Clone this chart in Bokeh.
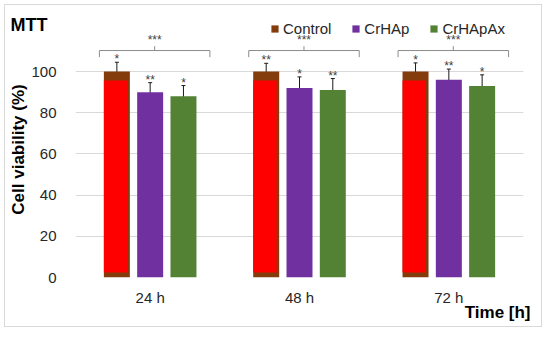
from bokeh.plotting import figure
from bokeh.models import (FactorRange, Range1d, ColumnDataSource, Whisker, Legend,
                          LegendItem, FixedTicker, TeeHead)
from bokeh.transform import dodge
from bokeh.core.properties import value
from bokeh.embed import file_html
from bokeh.resources import INLINE

# ---------------- data ----------------
times = ["24 h", "48 h", "72 h"]
groups = ["Control", "CrHAp", "CrHApAx"]
control = [100, 100, 100]
crhap = [90, 92, 96]
crhapax = [88, 91, 93]
control_err = [4.5, 4.0, 4.2]
crhap_err = [4.6, 5.4, 5.2]
crhapax_err = [5.2, 5.6, 5.4]
control_sig = ["*", "**", "*"]
crhap_sig = ["**", "*", "**"]
crhapax_sig = ["*", "**", "*"]
group_sig = ["***", "***", "***"]
y_ticks = [0, 20, 40, 60, 80, 100]
chart_title = "MTT"
x_title = "Time [h]"
y_title = "Cell viability (%)"

# ---------------- style ----------------
FONT = "Liberation Sans"
C_CTRL = "#843C0C"
C_RED = "#FF0000"
C_HAP = "#7030A0"
C_AX = "#548235"
TXT = "#262626"
BAR_W = 0.174
OFF = 0.223
BRACKET_Y = 110.2
BRACKET_END = 3.2
BRACKET_MID = 2.1
Y_MAX = 124.3

src = ColumnDataSource(dict(
    t=times,
    control=control, crhap=crhap, crhapax=crhapax,
    red_top=[v * 0.956 for v in control],
    red_bot=[v * 0.024 for v in control],
    c_hi=[v + e for v, e in zip(control, control_err)],
    c_lo=[v - e for v, e in zip(control, control_err)],
    h_hi=[v + e for v, e in zip(crhap, crhap_err)],
    h_lo=[v - e for v, e in zip(crhap, crhap_err)],
    a_hi=[v + e for v, e in zip(crhapax, crhapax_err)],
    a_lo=[v - e for v, e in zip(crhapax, crhapax_err)],
    c_sig=control_sig, h_sig=crhap_sig, a_sig=crhapax_sig, g_sig=group_sig,
    by=[BRACKET_Y] * len(times),
    by_end=[BRACKET_Y - BRACKET_END] * len(times),
    by_mid=[BRACKET_Y + BRACKET_MID] * len(times),
))

p = figure(x_range=FactorRange(factors=times), y_range=Range1d(0, Y_MAX),
           width=538, height=323, output_backend="svg", toolbar_location=None,
           min_border_left=70, min_border_right=20, min_border_top=16,
           min_border_bottom=51)
p.styles = {"border": "1px solid #d9d9d9", "margin-left": "4px", "margin-top": "4px"}
p.outline_line_color = None
p.background_fill_color = "white"
p.border_fill_color = "white"

xr = p.x_range
r_c = p.vbar(x=dodge("t", -OFF, range=xr), top="control", width=BAR_W, source=src,
             fill_color=C_CTRL, line_color=None)
p.vbar(x=dodge("t", -OFF - 0.0085, range=xr), top="red_top", bottom="red_bot",
       width=BAR_W - 0.017, source=src, fill_color=C_RED, line_color=None)
r_h = p.vbar(x=dodge("t", 0, range=xr), top="crhap", width=BAR_W, source=src,
             fill_color=C_HAP, line_color=None)
r_a = p.vbar(x=dodge("t", OFF, range=xr), top="crhapax", width=BAR_W, source=src,
             fill_color=C_AX, line_color=None)

for off, hi, lo, sig in [(-OFF, "c_hi", "c_lo", "c_sig"), (0, "h_hi", "h_lo", "h_sig"),
                         (OFF, "a_hi", "a_lo", "a_sig")]:
    w = Whisker(base=dodge("t", off, range=xr), upper=hi, lower=lo, source=src,
                line_color="#1a1a1a", line_width=1,
                upper_head=TeeHead(size=4, line_color="#1a1a1a", line_width=1),
                lower_head=TeeHead(size=4, line_color="#1a1a1a", line_width=1))
    p.add_layout(w)
    p.text(x=dodge("t", off, range=xr), y=hi, text=sig, source=src,
           text_align="center", text_baseline="alphabetic", y_offset=-3,
           text_font=value(FONT), text_font_size="12px", text_color="#404040")

# brackets
BL, BR, BM = -0.34, 0.40, 0.03
p.segment(x0=dodge("t", BL, range=xr), y0="by", x1=dodge("t", BR, range=xr), y1="by",
          source=src, line_color="#8c8c8c", line_width=1)
p.segment(x0=dodge("t", BL, range=xr), y0="by", x1=dodge("t", BL, range=xr), y1="by_end",
          source=src, line_color="#8c8c8c", line_width=1)
p.segment(x0=dodge("t", BR, range=xr), y0="by", x1=dodge("t", BR, range=xr), y1="by_end",
          source=src, line_color="#8c8c8c", line_width=1)
p.segment(x0=dodge("t", BM, range=xr), y0="by", x1=dodge("t", BM, range=xr), y1="by_mid",
          source=src, line_color="#8c8c8c", line_width=1)
p.text(x=dodge("t", BM, range=xr), y="by_mid", text="g_sig", source=src,
       text_align="center", text_baseline="alphabetic", y_offset=-6,
       text_font=value(FONT), text_font_size="12px", text_color="#404040")

# axes
p.xgrid.grid_line_color = None
p.ygrid.grid_line_color = "#d9d9d9"
p.yaxis.ticker = FixedTicker(ticks=y_ticks)
for ax in (p.xaxis[0], p.yaxis[0]):
    ax.axis_line_color = None
    ax.major_tick_line_color = None
    ax.minor_tick_line_color = None
    ax.major_label_text_font = FONT
    ax.major_label_text_font_size = "15px"
    ax.major_label_text_color = TXT
p.yaxis.major_label_standoff = 13
p.xaxis.major_label_standoff = 5
p.yaxis.axis_label = y_title
p.yaxis.axis_label_text_font = FONT
p.yaxis.axis_label_text_font_size = "17px"
p.yaxis.axis_label_text_font_style = "bold"
p.yaxis.axis_label_text_color = "black"
p.yaxis.axis_label_standoff = 0

# chart title and x-axis title (overlay level so they are drawn outside the frame)
p.text(x=[-0.436], y=[Y_MAX - 2.0], text=[chart_title], level="overlay",
       text_font=value(FONT), text_font_size="18px", text_font_style="bold",
       text_color="black", text_baseline="middle", y_offset=-1)
p.text(x=[3.047], y=[-17.0], text=[x_title], level="overlay",
       text_font=value(FONT), text_font_size="17px", text_font_style="bold",
       text_color="black", text_baseline="middle", text_align="right")

legend = Legend(items=[LegendItem(label=groups[0], renderers=[r_c]),
                       LegendItem(label=groups[1], renderers=[r_h]),
                       LegendItem(label=groups[2], renderers=[r_a])],
                orientation="horizontal", location=(195, 240),
                glyph_width=9, glyph_height=9, label_standoff=4, spacing=20,
                padding=0, margin=0, label_text_font=FONT,
                label_text_font_size="15px", label_text_color=TXT,
                background_fill_alpha=0, border_line_color=None)
p.add_layout(legend)

open("out.html", "w").write(file_html(p, INLINE))
